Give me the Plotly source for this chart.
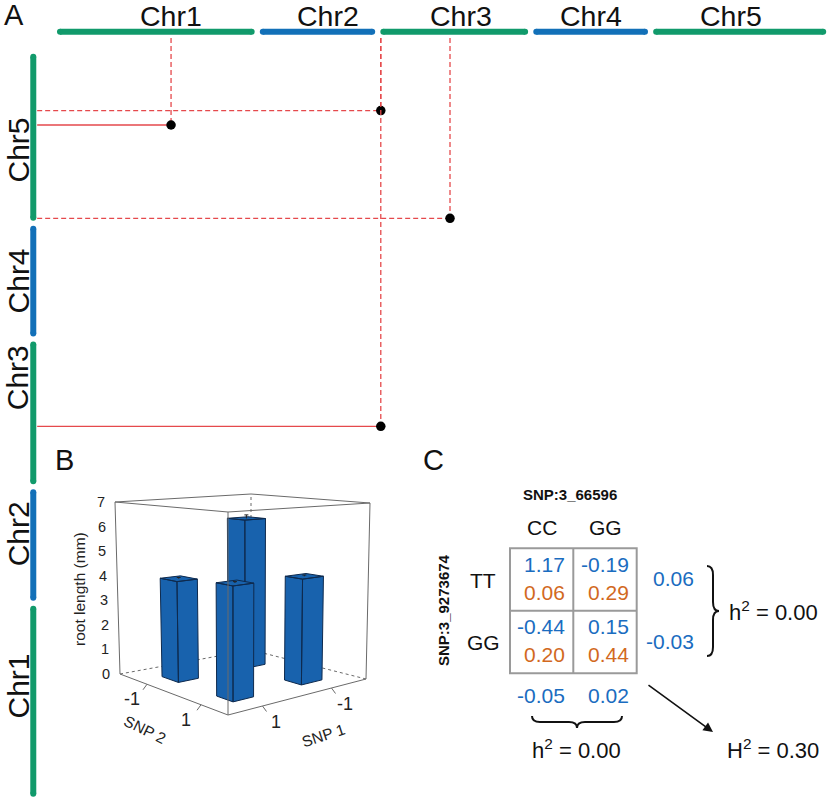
import plotly.graph_objects as go

# ---- panel A: chromosomes and epistatic links ----
chrom_names = ["Chr1", "Chr2", "Chr3", "Chr4", "Chr5"]
chrom_len = [30.5, 17.8, 22.8, 17.7, 26.7]          # Mb, as drawn
chrom_colors = ["#119a6b", "#1270b8", "#119a6b", "#1270b8", "#119a6b"]

pair_x_chr = [1, 3, 3, 3]
pair_x_pos = [17.6, 0.067, 10.75, 0.067]
pair_y_chr = [5, 5, 5, 3]
pair_y_pos = [15.3, 17.6, 0.4, 9.27]
pair_solid = [True, False, False, True]

# ---- panel B: 3D bars ----
snp1 = [-1, 1, -1, 1]
snp2 = [-1, -1, 1, 1]
root_len = [6.15, 3.95, 4.1, 4.2]
root_se = [0.15, 0.05, 0.05, 0.05]
z_ticks = [0, 1, 2, 3, 4, 5, 6, 7]
snp_ticks = [-1, 1]

# ---- panel C: genotype table ----
geno_cols = ["CC", "GG"]
geno_rows = ["TT", "GG"]
cell_effect = [[1.17, -0.19], [-0.44, 0.15]]
cell_freq = [[0.06, 0.29], [0.20, 0.44]]
row_effect = [0.06, -0.03]
col_effect = [-0.05, 0.02]
h2_row = 0.00
h2_col = 0.00
H2_total = 0.30

FONT = "Liberation Sans, Arial, sans-serif"
BLUE_TXT = "#1a6cc0"
ORANGE_TXT = "#d2691e"
RED = "#e5494c"

# label nudges (px) so the chromosome names sit where the original put them
top_label_dx = [15, 10, 7, 0, -9]
side_label_dy = [-15, -11, -35, 0, 13]

GAP = 0.8
starts = []
acc = 0
for L in chrom_len:
    starts.append(acc)
    acc += L + GAP

fig = go.Figure()

# chromosome bars
TOP_Y = 122.2
LEFT_X = -3.66
capx, capy = 0.46, 0.48
for k, (name, s, L, c) in enumerate(zip(chrom_names, starts, chrom_len, chrom_colors)):
    fig.add_trace(go.Scatter(x=[s + capx, s + L - capx], y=[TOP_Y, TOP_Y], mode="lines+markers",
                             line=dict(color=c, width=6), marker=dict(color=c, size=6),
                             hoverinfo="skip", showlegend=False))
    fig.add_trace(go.Scatter(x=[LEFT_X, LEFT_X], y=[s + capy, s + L - capy], mode="lines+markers",
                             line=dict(color=c, width=6), marker=dict(color=c, size=6),
                             hoverinfo="skip", showlegend=False))
    fig.add_annotation(x=s + L / 2, y=TOP_Y, xshift=top_label_dx[k], yshift=16, text=name, showarrow=False,
                       font=dict(size=28.5, family=FONT, color="#111"), xanchor="center", yanchor="middle")
    fig.add_annotation(x=LEFT_X, xshift=-15, y=s + L / 2, yshift=-side_label_dy[k], text=name,
                       showarrow=False, textangle=-90,
                       font=dict(size=30, family=FONT, color="#111"), xanchor="center", yanchor="middle")

# links
for xc, xp, yc, yp, solid in zip(pair_x_chr, pair_x_pos, pair_y_chr, pair_y_pos, pair_solid):
    gx = starts[xc - 1] + xp
    gy = starts[yc - 1] + yp
    fig.add_trace(go.Scatter(x=[gx, gx], y=[TOP_Y - 1.0, gy], mode="lines",
                             line=dict(color=RED, width=1.3, dash="5px,3px"),
                             hoverinfo="skip", showlegend=False))
    fig.add_trace(go.Scatter(x=[LEFT_X + 0.6, gx], y=[gy, gy], mode="lines",
                             line=dict(color=RED, width=1.3, dash="solid" if solid else "5px,3px"),
                             hoverinfo="skip", showlegend=False))
    fig.add_trace(go.Scatter(x=[gx], y=[gy], mode="markers", marker=dict(color="black", size=9.5),
                             hoverinfo="skip", showlegend=False))

# ---- panel B projection (pixel space on x2/y2) ----
F0, L0, R0, B0 = (228, 715), (120, 674), (366, 679), (251, 650)
F1, L1, R1, B1 = (228, 512), (115, 502), (370, 503), (251, 494)
ZMAX = 7.0


def bil(a, b, F, Lc, R, B):
    return tuple((1 - a) * (1 - b) * F[i] + a * (1 - b) * Lc[i] + (1 - a) * b * R[i] + a * b * B[i]
                 for i in range(2))


def proj(u, v, z):
    a = (2 - v) / 4.0
    b = (2 - u) / 4.0
    h = z / ZMAX
    p0 = bil(a, b, F0, L0, R0, B0)
    p1 = bil(a, b, F1, L1, R1, B1)
    return ((1 - h) * p0[0] + h * p1[0], (1 - h) * p0[1] + h * p1[1])


def seg(p, q, dash="solid", color="#6a6a6a", width=1):
    fig.add_trace(go.Scatter(x=[p[0], q[0]], y=[p[1], q[1]], mode="lines", xaxis="x2", yaxis="y2",
                             line=dict(color=color, width=width, dash=dash),
                             hoverinfo="skip", showlegend=False))


# hidden back edges
seg(proj(2, -2, 0), proj(-2, -2, 0), "3px,3px")
seg(proj(-2, 2, 0), proj(-2, -2, 0), "3px,3px")
seg(proj(-2, -2, 0), proj(-2, -2, ZMAX), "3px,3px")

# bars, back to front
W = 0.3
order = sorted(range(len(root_len)), key=lambda i: snp1[i] + snp2[i])
for i in order:
    u, v, z = snp1[i], snp2[i], root_len[i]
    umax, umin, vmax, vmin = u + W, u - W, v + W, v - W
    left_face = [proj(umax, vmax, 0), proj(umax, vmin, 0), proj(umax, vmin, z), proj(umax, vmax, z)]
    right_face = [proj(umax, vmax, 0), proj(umin, vmax, 0), proj(umin, vmax, z), proj(umax, vmax, z)]
    top_face = [proj(umax, vmax, z), proj(umax, vmin, z), proj(umin, vmin, z), proj(umin, vmax, z)]
    xs, ys = [], []
    for face in (left_face, right_face, top_face):
        xs += [p[0] for p in face] + [face[0][0], None]
        ys += [p[1] for p in face] + [face[0][1], None]
    fig.add_trace(go.Scatter(x=xs, y=ys, mode="lines", fill="toself", fillcolor="#1862ad",
                             line=dict(color="#0e2a4e", width=1), xaxis="x2", yaxis="y2",
                             hoverinfo="skip", showlegend=False))
    c0 = proj(u, v, z)
    c1 = proj(u, v, z + root_se[i])
    fig.add_trace(go.Scatter(x=[c0[0], c1[0], None, c1[0] - 2, c1[0] + 2], y=[c0[1], c1[1], None, c1[1], c1[1]],
                             mode="lines", line=dict(color="#222", width=1), xaxis="x2", yaxis="y2",
                             hoverinfo="skip", showlegend=False))

# visible box edges
for p, q in [((2, 2, 0), (2, -2, 0)), ((2, 2, 0), (-2, 2, 0)),
             ((2, 2, 0), (2, 2, ZMAX)), ((2, -2, 0), (2, -2, ZMAX)), ((-2, 2, 0), (-2, 2, ZMAX)),
             ((2, 2, ZMAX), (2, -2, ZMAX)), ((2, 2, ZMAX), (-2, 2, ZMAX)),
             ((2, -2, ZMAX), (-2, -2, ZMAX)), ((-2, 2, ZMAX), (-2, -2, ZMAX))]:
    seg(proj(*p), proj(*q))

ann_b = []
for t in z_ticks:
    p = proj(2, -2, t)
    ann_b.append(dict(x=p[0] - 8, y=p[1], text=str(t), xanchor="right", yanchor="middle",
                      font=dict(size=14.5, color="#222")))
for t in snp_ticks:
    p = proj(2, t, 0)
    seg(p, (p[0] - 4, p[1] + 5.5))
    ann_b.append(dict(x=p[0] - 15, y=p[1] + 15, text=str(t), xanchor="center", yanchor="middle",
                      font=dict(size=18, color="#222")))
    p = proj(t, 2, 0)
    seg(p, (p[0] + 4, p[1] + 5.5))
    ann_b.append(dict(x=p[0] + 13, y=p[1] + 16, text=str(t), xanchor="center", yanchor="middle",
                      font=dict(size=18, color="#222")))
ann_b.append(dict(x=145, y=729, text="SNP 2", textangle=26, font=dict(size=15.5, color="#222")))
ann_b.append(dict(x=323, y=735, text="SNP 1", textangle=-18, font=dict(size=15.5, color="#222")))
ann_b.append(dict(x=79, y=589, text="root length (mm)", textangle=-90, font=dict(size=15.5, color="#222")))

# ---- panel C ----
col_x = [510, 573.3, 636.7]
row_y = [548.3, 610.7, 673.3]
shapes = [dict(type="rect", x0=col_x[0], x1=col_x[2], y0=row_y[0], y1=row_y[2]),
          dict(type="line", x0=col_x[1], x1=col_x[1], y0=row_y[0], y1=row_y[2]),
          dict(type="line", x0=col_x[0], x1=col_x[2], y0=row_y[1], y1=row_y[1])]
for s in shapes:
    s.update(xref="x2", yref="y2", line=dict(color="#9a9a9a", width=2))

brace_r = ("M 707 566 Q 713 566 713 575 L 713 602 Q 713 611 719 611 "
           "Q 713 611 713 620 L 713 647 Q 713 656 707 656")
brace_b = ("M 532 716 Q 532 722 540 722 L 569 722 Q 577 722 577 728 "
           "Q 577 722 585 722 L 614 722 Q 622 722 622 716")
for pth in (brace_r, brace_b):
    shapes.append(dict(type="path", path=pth, xref="x2", yref="y2", line=dict(color="#111", width=2)))

ann_c = []
for j, g in enumerate(geno_cols):
    ann_c.append(dict(x=(col_x[j] + col_x[j + 1]) / 2, y=527, text=g, font=dict(size=21, color="#111")))
for i, g in enumerate(geno_rows):
    ann_c.append(dict(x=483, y=(row_y[i] + row_y[i + 1]) / 2 + 0.5, text=g, font=dict(size=21, color="#111")))
    for j in range(2):
        ann_c.append(dict(x=col_x[j + 1] - 6, y=row_y[i] + 16, text=f"{cell_effect[i][j]:.2f}",
                          xanchor="right", font=dict(size=21, color=BLUE_TXT)))
        ann_c.append(dict(x=col_x[j + 1] - 6, y=row_y[i] + 44, text=f"{cell_freq[i][j]:.2f}",
                          xanchor="right", font=dict(size=21, color=ORANGE_TXT)))
    ann_c.append(dict(x=696, y=(row_y[i] + row_y[i + 1]) / 2 - 1, text=f"{row_effect[i]:.2f}",
                      xanchor="right", font=dict(size=21, color=BLUE_TXT)))
for j in range(2):
    ann_c.append(dict(x=col_x[j + 1] - 6, y=695, text=f"{col_effect[j]:.2f}",
                      xanchor="right", font=dict(size=21, color=BLUE_TXT)))
ann_c.append(dict(x=773, y=611, text=f"h<sup>2</sup> = {h2_row:.2f}", font=dict(size=22, color="#111")))
ann_c.append(dict(x=576, y=749, text=f"h<sup>2</sup> = {h2_col:.2f}", font=dict(size=22, color="#111")))
ann_c.append(dict(x=773, y=749, text=f"H<sup>2</sup> = {H2_total:.2f}", font=dict(size=22, color="#111")))
ann_c.append(dict(x=570, y=494, text="<b>SNP:3_66596</b>", font=dict(size=15, color="#111")))
ann_c.append(dict(x=443, y=610, text="<b>SNP:3_9273674</b>", textangle=-90, font=dict(size=15, color="#111")))
ann_c.append(dict(x=713, y=732, ax=-66, ay=-48, text="", showarrow=True, arrowhead=2, arrowsize=1.2,
                  arrowwidth=1.6, arrowcolor="#111", font=dict(size=10)))

# panel letters
for letter, x, y in [("A", 13.5, 15), ("B", 64, 460), ("C", 433, 460)]:
    ann_c.append(dict(x=x, y=y, text=letter, font=dict(size=29, color="#111")))

for a in ann_b + ann_c:
    a.setdefault("showarrow", False)
    a.setdefault("xanchor", "center")
    a.setdefault("yanchor", "middle")
    a["xref"] = "x2"
    a["yref"] = "y2"
    a["font"]["family"] = FONT
    fig.add_annotation(**a)

fig.update_layout(
    width=830, height=800,
    margin=dict(l=0, r=0, t=0, b=0),
    paper_bgcolor="white", plot_bgcolor="rgba(0,0,0,0)",
    shapes=shapes,
    xaxis=dict(range=[-57 / 6.48, (830 - 57) / 6.48], visible=False, domain=[0, 1]),
    yaxis=dict(range=[(796.7 - 800) / 6.26, 796.7 / 6.26], visible=False, domain=[0, 1]),
    xaxis2=dict(range=[0, 830], visible=False, overlaying="x"),
    yaxis2=dict(range=[800, 0], visible=False, overlaying="y"),
    font=dict(family=FONT),
)

fig.write_html("out.html", config={"displayModeBar": False},
               post_script="document.body.style.margin='0px';")
